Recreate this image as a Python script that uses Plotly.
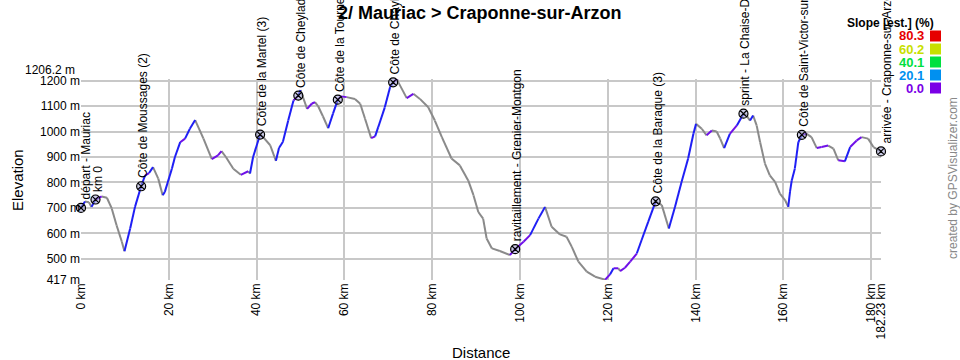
import plotly.graph_objects as go

# ---- profile data (km, elevation m) ----
dist_km = [0, 0.9, 1.8, 2.4, 3.3, 4.7, 5.9, 7.0, 8.1, 9.3, 9.9, 11.2, 12.3, 13.7, 14.6, 15.5, 16.4,
           17.6, 18.6, 19.1, 20.7, 21.4, 22.6, 23.7, 24.8, 26.0, 27.9, 29.8, 31.2, 32.0, 33.0, 34.7,
           36.4, 38.1, 38.5, 39.2, 40.8, 41.5, 43.1, 44.4, 45.1, 46.0, 47.2, 48.4, 49.5, 50.0, 51.5,
           52.6, 53.3, 54.0, 55.1, 56.3, 57.4, 58.5, 59.2, 60.5, 62.4, 63.6, 64.7, 66.1, 67.0, 67.7,
           69.2, 70.4, 71.1, 72.0, 72.3, 74.2, 75.7, 77.2, 79.1, 80.6, 82.2, 84.4, 86.3, 88.2, 89.4,
           90.5, 91.6, 92.4, 93.6, 95.4, 97.7, 98.9, 100.8, 102.3, 104.2, 105.7, 107.2, 109.1, 110.6,
           111.8, 113.3, 115.2, 117.1, 119.4, 120.5, 121.3, 122.4, 122.8, 123.9, 125.1, 126.6, 127.7,
           129.2, 130.9, 132.3, 133.9, 135.3, 136.8, 138.3, 139.5, 140.1, 141.4, 142.5, 143.7, 144.8,
           145.6, 146.5, 147.8, 149.4, 150.9, 151.6, 152.4, 153.1, 153.9, 154.7, 155.8, 156.9, 158.1,
           159.2, 160.4, 161.1, 161.5, 161.9, 162.6, 163.4, 164.2, 165.3, 166.4, 167.6, 168.7, 170.2,
           171.4, 172.5, 174.0, 175.2, 176.7, 177.8, 179.3, 180.5, 182.23]
elev_m = [700, 725, 722, 704, 733, 745, 740, 698, 632, 567, 530, 619, 704, 785, 828, 837, 860,
          815, 750, 763, 854, 900, 958, 972, 1011, 1045, 972, 892, 906, 923, 900, 854,
          830, 844, 835, 900, 988, 978, 946, 885, 935, 960, 1043, 1122, 1141, 1163, 1089,
          1110, 1115, 1100, 1060, 1013, 1070, 1125, 1138, 1135, 1128, 1109, 1050, 974, 981, 1017,
          1095, 1174, 1193, 1206, 1193, 1131, 1148, 1128, 1095, 1043, 978, 894, 867, 808, 750,
          684, 658, 580, 541, 531, 515, 538, 567, 593, 658, 704, 626, 596, 587,
          547, 489, 450, 430, 418, 439, 463, 463, 452, 465, 489, 521, 574,
          645, 726, 711, 619, 704, 802, 894, 991, 1030, 1011, 985, 1004, 1000,
          972, 935, 991, 1024, 1070, 1063, 1043, 1063, 1024, 958, 874, 828, 802,
          756, 730, 704, 763, 808, 854, 958, 987, 991, 978, 935, 939, 945,
          933, 887, 883, 939, 965, 978, 972, 939, 922]

# ---- waypoints ----
wp_names = ["départ - Mauriac", "km 0", "Côte de Moussages (2)", "Côte de la Martel (3)",
            "Côte de Cheylade (2)", "Côte de la Tourne (2)", "Côte de Chaylat (1)",
            "ravitaillement - Grenier-Montgon", "Côte de la Baraque (3)",
            "sprint - La Chaise-Dieu", "Côte de Saint-Victor-sur-Arlanc", "arrivée - Craponne-sur-Arzon"]
wp_km = [0, 3.3, 13.7, 40.8, 49.5, 58.5, 71.1, 98.9, 130.9, 150.9, 164.2, 182.23]
wp_elev = [700, 733, 785, 988, 1141, 1125, 1193, 538, 726, 1070, 987, 922]

# ---- axes ----
x_ticks = [0, 20, 40, 60, 80, 100, 120, 140, 160, 180, 182.23]
x_tick_text = ["0 km", "20 km", "40 km", "60 km", "80 km", "100 km", "120 km", "140 km",
               "160 km", "180 km", "182.23 km"]
y_ticks = [417, 500, 600, 700, 800, 900, 1000, 1100, 1200, 1206.2]
y_tick_text = ["417 m", "500 m", "600 m", "700 m", "800 m", "900 m", "1000 m", "1100 m",
               "1200 m", "1206.2 m"]

# ---- legend (slope) ----
legend_values = ["80.3", "60.2", "40.1", "20.1", "0.0"]
legend_colors = ["#e60000", "#c8e000", "#00e040", "#0090f0", "#7a00e6"]

FONT = "Arial, 'Liberation Sans', sans-serif"
C_DOWN, C_FLAT, C_UP = "#8a8a8a", "#6f10e8", "#1f1ff5"

# split profile into colored segments by slope
groups = {C_DOWN: ([], []), C_FLAT: ([], []), C_UP: ([], [])}
for i in range(len(dist_km) - 1):
    dx = (dist_km[i + 1] - dist_km[i]) * 1000
    s = (elev_m[i + 1] - elev_m[i]) / dx * 100 if dx else 0
    c = C_DOWN if s < -0.3 else (C_FLAT if s < 2.5 else C_UP)
    xs, ys = groups[c]
    xs += [dist_km[i], dist_km[i + 1], None]
    ys += [elev_m[i], elev_m[i + 1], None]

fig = go.Figure()
for c, (xs, ys) in groups.items():
    fig.add_trace(go.Scatter(x=xs, y=ys, mode="lines", line=dict(color=c, width=2),
                             hoverinfo="skip", showlegend=False, cliponaxis=False))

fig.add_trace(go.Scatter(x=wp_km, y=wp_elev, mode="markers", text=wp_names,
                         marker=dict(symbol="circle-x", size=9, color="rgba(160,160,210,0.55)",
                                     line=dict(color="black", width=1.2)),
                         showlegend=False, cliponaxis=False))

L, R, T, B = 81, 79, 79, 80
W, H = 960, 360
pw, ph = W - L - R, H - T - B

def px(x):
    return (x - L) / pw

def py(y):
    return (H - B - y) / ph

ann = []
for i, (n, k, e) in enumerate(zip(wp_names, wp_km, wp_elev)):
    xs = 2
    if i == 0:
        xs = 5
    if i == len(wp_names) - 1:
        xs = 6
    ann.append(dict(x=k, y=e, xref="x", yref="y", text=n, showarrow=False, textangle=-90,
                    xanchor="center", yanchor="bottom", yshift=6, xshift=xs,
                    font=dict(family=FONT, size=12, color="black")))

# top elevation label, lifted above the 1200 m label as in the original
ann.append(dict(x=px(77), y=py(70), xref="paper", yref="paper", text=y_tick_text[-1],
                showarrow=False, xanchor="right", yanchor="middle",
                font=dict(family=FONT, size=12, color="black")))
# axis titles
ann.append(dict(x=px(17), y=py(180), xref="paper", yref="paper", text="Elevation", showarrow=False,
                textangle=-90, xanchor="center", yanchor="middle",
                font=dict(family=FONT, size=15, color="black")))
ann.append(dict(x=px(481), y=py(352), xref="paper", yref="paper", text="Distance", showarrow=False,
                xanchor="center", yanchor="middle", font=dict(family=FONT, size=15, color="black")))
# title
ann.append(dict(x=px(480), y=py(13), xref="paper", yref="paper",
                text="<b>2/ Mauriac > Craponne-sur-Arzon</b>", showarrow=False,
                xanchor="center", yanchor="middle", font=dict(family=FONT, size=18, color="black")))
# credit
ann.append(dict(x=px(953), y=py(178), xref="paper", yref="paper", text="created by GPSVisualizer.com",
                showarrow=False, textangle=-90, xanchor="center", yanchor="middle",
                font=dict(family=FONT, size=12, color="#888888")))
# legend
ann.append(dict(x=px(890), y=py(23), xref="paper", yref="paper", text="<b>Slope [est.] (%)</b>",
                showarrow=False, xanchor="center", yanchor="middle",
                font=dict(family=FONT, size=12, color="black")))
shapes = []
for j, (v, c) in enumerate(zip(legend_values, legend_colors)):
    yc = 36 + 13 * j
    ann.append(dict(x=px(926), y=py(yc), xref="paper", yref="paper", text="<b>%s</b>" % v,
                    showarrow=False, xanchor="right", yanchor="middle",
                    font=dict(family=FONT, size=13, color=c)))
    shapes.append(dict(type="rect", xref="paper", yref="paper", x0=px(930), x1=px(941),
                       y0=py(yc + 5.5), y1=py(yc - 5.5), fillcolor=c, line=dict(width=0)))

fig.update_layout(
    width=W, height=H, autosize=False,
    margin=dict(l=L, r=R, t=T, b=B),
    paper_bgcolor="white", plot_bgcolor="white",
    annotations=ann, shapes=shapes,
    xaxis=dict(range=[0, 182.23], tickvals=x_ticks, ticktext=x_tick_text, tickangle=-90,
               showgrid=True, gridcolor="#c8c8c8", gridwidth=1.5, zeroline=False,
               showline=False, ticks="", tickfont=dict(family=FONT, size=12, color="black")),
    yaxis=dict(range=[417, 1206.2], tickvals=y_ticks, ticktext=y_tick_text[:-1] + [""],
               showgrid=True, gridcolor="#c8c8c8", gridwidth=1.5, zeroline=False,
               showline=False, ticks="", tickfont=dict(family=FONT, size=12, color="black")),
    hovermode=False,
)

fig.write_html("out.html", config={"displayModeBar": False},
               post_script="document.body.style.margin='0';document.body.style.overflow='hidden';")
